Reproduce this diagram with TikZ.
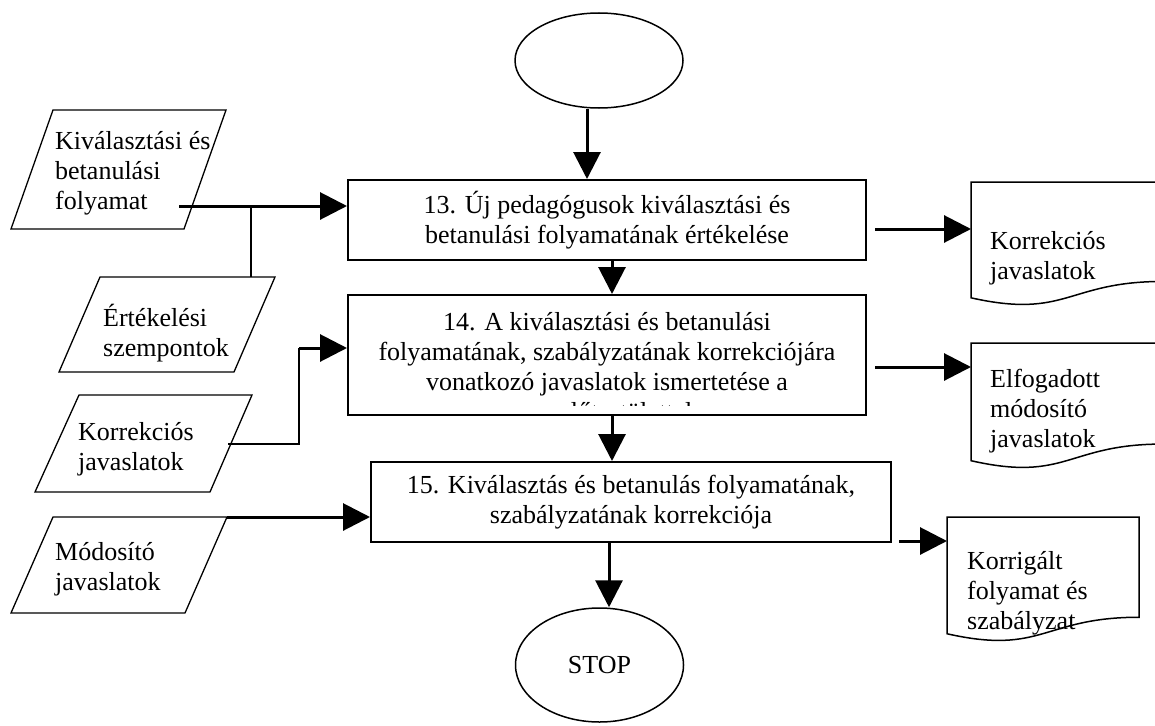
\documentclass[tikz,border=0pt]{standalone}
\usepackage{fontspec}
\setmainfont{Liberation Serif}
\usetikzlibrary{arrows.meta,shapes.geometric}
% document symbol with a wavy bottom edge: #1,#2 top-left corner, #3 width, #4 height
\newcommand\flowdoc[4]{%
  \draw[docline] (#1,#2) -- ({#1+#3},#2) -- ({#1+#3},{#2+0.802*#4})
    .. controls ({#1+0.5*#3},{#2+0.802*#4}) and ({#1+0.5*#3},{#2+1.1075*#4})
    .. (#1,{#2+0.934*#4}) -- cycle;}
\begin{document}
\begin{tikzpicture}[x=1pt,y=-1pt,
  txt/.style={font=\fontsize{26}{30}\selectfont, inner sep=0pt},
  procbox/.style={draw, line width=2pt, rectangle, inner sep=0pt, txt, align=center},
  term/.style={draw, line width=1.5pt, ellipse, inner sep=0pt, txt},
  ioline/.style={line width=1.3pt, line join=miter},
  docline/.style={line width=1.5pt},
  flow/.style={line width=3pt, -{Triangle[length=27pt,width=27pt]}},
  link/.style={line width=1.5pt},
  lefttxt/.style={txt, align=left, anchor=west},
]
\useasboundingbox (0,0) rectangle (1155,725);

% terminators and process boxes
\node[term, minimum width=168pt, minimum height=95pt] (start) at (599,60.5) {};
\node[procbox, minimum width=518pt, minimum height=80pt] (b13) at (607,220)
  {13. Új pedagógusok kiválasztási és\\betanulási folyamatának értékelése};
\node[procbox, minimum width=518pt, minimum height=120pt] (b14) at (607,355) {};
\begin{scope}
  \clip (350,297) rectangle (864,405);
  \node[txt, align=center] (b14t) at (607,367)
    {14. A kiválasztási és betanulási\\folyamatának, szabályzatának korrekciójára\\vonatkozó javaslatok ismertetése a\\nevelőtestülettel};
\end{scope}
\node[procbox, minimum width=520pt, minimum height=80pt] (b15) at (631,502)
  {15. Kiválasztás és betanulás folyamatának,\\szabályzatának korrekciója};
\node[term, minimum width=168pt, minimum height=114pt] (stop) at (599.5,665)
  {\raisebox{-6pt}{STOP}};

% input parallelograms
\draw[ioline] (53,110) -- (226,110) -- (184,229) -- (11,229) -- cycle;
\node[lefttxt] (in1) at (55,173) {Kiválasztási és\\betanulási\\folyamat};
\draw[ioline] (100,277) -- (275,277) -- (234,372) -- (59,372) -- cycle;
\node[lefttxt] (in2) at (103,333) {Értékelési\\szempontok};
\draw[ioline] (79,395) -- (252,395) -- (210,492) -- (35,492) -- cycle;
\node[lefttxt] (in3) at (78,449) {Korrekciós\\javaslatok};
\draw[ioline] (53,517) -- (227,517) -- (185,613) -- (11,613) -- cycle;
\node[lefttxt] (in4) at (55,569) {Módosító\\javaslatok};

% output documents
\coordinate (doc1) at (971,182);
\flowdoc{971}{182}{192}{124}
\node[lefttxt] (out1) at (990,258) {Korrekciós\\javaslatok};
\coordinate (doc2) at (971,343);
\flowdoc{971}{343}{192}{126}
\node[lefttxt] (out2) at (990,411) {Elfogadott\\módosító\\javaslatok};
\coordinate (doc3) at (947,517);
\flowdoc{947}{517}{192}{125}
\node[lefttxt] (out3) at (967,593) {Korrigált\\folyamat és\\szabályzat};

% main flow
\draw[flow] ([xshift=-12pt]start.south) -- ([xshift=-12pt]start.south |- b13.north);
\draw[flow] ([xshift=5pt]b13.south) -- ([xshift=5pt]b13.south |- b14.north);
\draw[flow] ([xshift=5pt]b14.south) -- ([xshift=5pt]b14.south |- b15.north);
\draw[flow] ([xshift=-22pt]b15.south) -- ([xshift=-22pt]b15.south |- stop.north);

% inputs into the process boxes
\coordinate (in1out) at (179,206);
\coordinate (branch) at (251,206);
\coordinate (in2top) at (251,277);
\draw[flow] (in1out) -- (in1out -| b13.west);
\draw[link] (branch) -- (in2top);
\coordinate (in3out) at (228,444);
\coordinate (bend) at (299,444);
\coordinate (b14in) at (299,348);
\draw[link] (in3out) -- (bend) -- (b14in);
\draw[flow] (b14in) -- (b14in -| b14.west);
\coordinate (in4out) at (227,517);
\draw[flow] (in4out) -- (in4out -| b15.west);

% outputs of the process boxes
\coordinate (o13) at (875,229);
\draw[flow] (o13) -- (o13 -| doc1);
\coordinate (o14) at (875,367);
\draw[flow] (o14) -- (o14 -| doc2);
\coordinate (o15) at (899,541);
\draw[flow] (o15) -- (o15 -| doc3);
\end{tikzpicture}
\end{document}
